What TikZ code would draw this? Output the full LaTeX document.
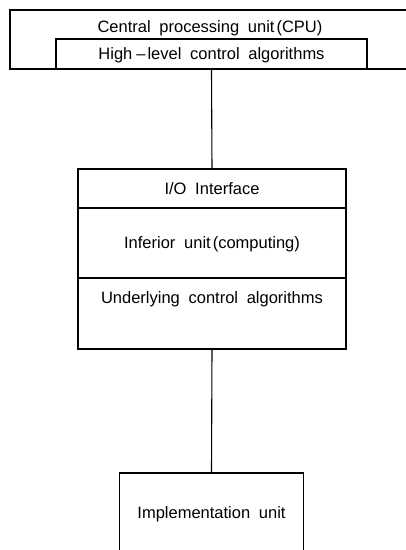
\documentclass[tikz,border=0pt]{standalone}
\usepackage{fontspec}
\setmainfont{Liberation Sans}[WordSpace=1.9]
\usepackage{tikz}
\usetikzlibrary{positioning}

\begin{document}
\begin{tikzpicture}[x=1pt, y=-1pt,
  box/.style={rectangle, draw=black, line width=1.1pt, inner sep=0pt, outer sep=0pt, font=\fontsize{16.5}{19}\selectfont, text height=11.8pt, text depth=0pt, text badly centered},
  cell/.style={box, minimum width=268pt},
  line/.style={draw, line width=1.1pt}]
\useasboundingbox (0,0) rectangle (406,550);
\clip (0,0) rectangle (406,550);
\node[box, minimum width=400pt, minimum height=59pt, text depth=25.8pt] (cpu) at (210,39.5) {Central processing unit\kern2pt(CPU)};
\node[box, minimum width=311pt, minimum height=30pt] (high) at (211.5,54) {High\kern4pt--\kern2pt level control algorithms};
\node[cell, minimum height=39pt] (io) at (212,188.5) {I/O Interface};
\node[cell, minimum height=70pt, below=0pt of io] (inferior) {Inferior unit\kern2pt(computing)};
\node[cell, minimum height=71pt, text depth=32.8pt, below=0pt of inferior] (under) {Underlying control algorithms};
\node[box, minimum width=184pt, minimum height=80pt] (impl) at (211.5,513) {Implementation unit};
\begin{scope}[every path/.style=line]
\path (high.south) -- (io.north);
\path (under.south) -- (impl.north);
\end{scope}
\end{tikzpicture}
\end{document}
